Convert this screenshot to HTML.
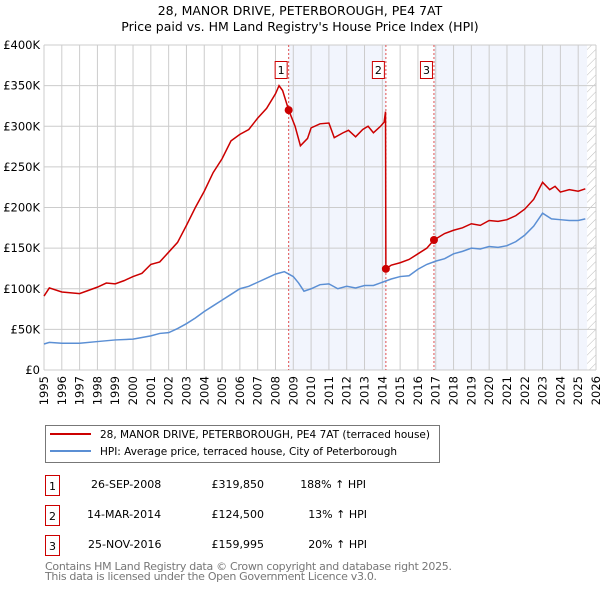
<!DOCTYPE html>
<html><head><meta charset="utf-8"><style>
body{margin:0;background:#fff;font-family:"Liberation Sans","DejaVu Sans",sans-serif;}
svg text{font-family:"DejaVu Sans","Liberation Sans",sans-serif;}
</style></head><body>
<svg id="c" width="600" height="590" xmlns="http://www.w3.org/2000/svg">
<defs><pattern id="hatch" width="6" height="6" patternUnits="userSpaceOnUse" patternTransform="rotate(45)"><line x1="0" y1="0" x2="0" y2="6" stroke="#bbb" stroke-width="1"/></pattern></defs>
<text x="300" y="15" text-anchor="middle" font-size="12.5">28, MANOR DRIVE, PETERBOROUGH, PE4 7AT</text>
<text x="300" y="31" text-anchor="middle" font-size="12.5">Price paid vs. HM Land Registry's House Price Index (HPI)</text>
<g id="plot"></g>
<g>
<rect x="45.5" y="425.5" width="394" height="37" fill="#fff" stroke="#777"/>
<line x1="50" y1="434" x2="91" y2="434" stroke="#cc0000" stroke-width="2"/>
<text x="100" y="438" font-size="10.5" textLength="330">28, MANOR DRIVE, PETERBOROUGH, PE4 7AT (terraced house)</text>
<line x1="50" y1="451" x2="91" y2="451" stroke="#5b8fd4" stroke-width="2"/>
<text x="100" y="455" font-size="10.5" textLength="297">HPI: Average price, terraced house, City of Peterborough</text>
</g>
<g font-size="11">
<rect x="45.5" y="475.5" width="14" height="20" fill="#fff" stroke="#cc0000"/><text x="52.5" y="490" text-anchor="middle">1</text>
<text x="91" y="488">26-SEP-2008</text><text x="264" y="488" text-anchor="end">£319,850</text><text x="366" y="488" text-anchor="end">188% ↑ HPI</text>
<rect x="45.5" y="505.5" width="14" height="20" fill="#fff" stroke="#cc0000"/><text x="52.5" y="520" text-anchor="middle">2</text>
<text x="87" y="518">14-MAR-2014</text><text x="264" y="518" text-anchor="end">£124,500</text><text x="367" y="518" text-anchor="end">13% ↑ HPI</text>
<rect x="45.5" y="535.5" width="14" height="20" fill="#fff" stroke="#cc0000"/><text x="52.5" y="550" text-anchor="middle">3</text>
<text x="88" y="548">25-NOV-2016</text><text x="264" y="548" text-anchor="end">£159,995</text><text x="367" y="548" text-anchor="end">20% ↑ HPI</text>
</g>
<text x="45" y="570" font-size="11" fill="#777" textLength="407">Contains HM Land Registry data © Crown copyright and database right 2025.</text>
<text x="45" y="580" font-size="11" fill="#777" textLength="332">This data is licensed under the Open Government Licence v3.0.</text>
</svg>
<script>
const hpiYears=[1995,1995.3,1996,1997,1998,1999,2000,2000.5,2001,2001.5,2002,2002.5,2003,2003.5,2004,2004.5,2005,2005.5,2006,2006.5,2007,2007.5,2008,2008.5,2009,2009.3,2009.6,2010,2010.5,2011,2011.5,2012,2012.5,2013,2013.5,2014,2014.5,2015,2015.5,2016,2016.5,2017,2017.5,2018,2018.5,2019,2019.5,2020,2020.5,2021,2021.5,2022,2022.5,2023,2023.5,2024,2024.5,2025,2025.4];
const hpiValues=[32,34,33,33,35,37,38,40,42,45,46,51,57,64,72,79,86,93,100,103,108,113,118,121,115,107,97,100,105,106,100,103,101,104,104,108,112,115,116,124,130,134,137,143,146,150,149,152,151,153,158,166,177,193,186,185,184,184,186];
const priceYears=[1995,1995.3,1996,1997,1997.5,1998,1998.5,1999,1999.5,2000,2000.5,2001,2001.5,2002,2002.5,2003,2003.5,2004,2004.5,2005,2005.5,2006,2006.5,2007,2007.5,2008,2008.2,2008.4,2008.74,2009.1,2009.4,2009.8,2010,2010.5,2011,2011.3,2011.8,2012.1,2012.5,2012.9,2013.2,2013.5,2013.9,2014.1,2014.18,2014.2,2014.5,2015,2015.5,2016,2016.5,2016.9,2017.5,2018,2018.5,2019,2019.5,2020,2020.5,2021,2021.5,2022,2022.5,2023,2023.4,2023.7,2024,2024.5,2025,2025.4];
const priceValues=[91,101,96,94,98,102,107,106,110,115,119,130,133,145,157,178,200,220,243,260,282,290,296,310,322,340,350,344,320,300,276,285,298,303,304,286,292,295,287,296,300,292,300,305,318,124.5,129,132,136,143,150,160,168,172,175,180,178,184,183,185,190,198,210,231,222,226,219,222,220,223];
const saleYears=[2008.74,2014.2,2016.9];
const saleValues=[319.85,124.5,159.995];
const saleLabels=["1","2","3"];
const yTicks=[0,50,100,150,200,250,300,350,400];
const xTicks=[1995,1996,1997,1998,1999,2000,2001,2002,2003,2004,2005,2006,2007,2008,2009,2010,2011,2012,2013,2014,2015,2016,2017,2018,2019,2020,2021,2022,2023,2024,2025,2026];

const X0=44,X1=596,Y0=370,Y1=45;
const x=v=>X0+(v-1995)*(X1-X0)/31;
const y=v=>Y0-v*(Y0-Y1)/400;
const NS="http://www.w3.org/2000/svg";
const g=document.getElementById('plot');
function mk(t,a){const e=document.createElementNS(NS,t);for(const k in a)e.setAttribute(k,a[k]);g.appendChild(e);return e;}
let e;
e=mk('rect',{x:X0,y:Y1,width:X1-X0,height:Y0-Y1,fill:'#fff'});


e=mk('rect',{x:x(saleYears[0]),y:Y1,width:x(saleYears[1])-x(saleYears[0]),height:Y0-Y1,fill:'#f2f5fd'});


e=mk('rect',{x:x(saleYears[2]),y:Y1,width:x(2025.5)-x(saleYears[2]),height:Y0-Y1,fill:'#f2f5fd'});


e=mk('rect',{x:x(2025.5),y:Y1,width:X1-x(2025.5),height:Y0-Y1,fill:'url(#hatch)'});


xTicks.forEach(t=>{
 e=mk('line',{x1:x(t),x2:x(t),y1:Y1,y2:Y0,stroke:'#ccc','stroke-width':1});
 
 
 e=mk('text',{x:x(t)+4,y:Y0+6,'font-size':11.5,'text-anchor':'end',transform:`rotate(-90 ${x(t)+4} ${Y0+6})`});
 e.textContent=t;
 
 
});
yTicks.forEach(t=>{
 e=mk('line',{x1:X0,x2:X1,y1:y(t),y2:y(t),stroke:'#ccc','stroke-width':1});
 
 
 e=mk('text',{x:X0-4,y:y(t)+4,'font-size':11.5,'text-anchor':'end'});
 e.textContent=t===0?'£0':'£'+t+'K';
 
 
});
saleYears.forEach((s,i)=>{
 e=mk('line',{x1:x(s),x2:x(s),y1:Y1,y2:Y0,stroke:'#e05050','stroke-width':1,'stroke-dasharray':'2,2'});
 
 
});
e=mk('polyline',{points:hpiYears.map((t,i)=>x(t)+','+y(hpiValues[i])).join(' '),fill:'none',stroke:'#5b8fd4','stroke-width':1.5});


e=mk('polyline',{points:priceYears.map((t,i)=>x(t)+','+y(priceValues[i])).join(' '),fill:'none',stroke:'#cc0000','stroke-width':1.5});


saleYears.forEach((s,i)=>{
 e=mk('circle',{cx:x(s),cy:y(saleValues[i]),r:4,fill:'#cc0000'});
 
 
 e=mk('rect',{x:x(s)-13.5,y:61.5,width:12,height:17,fill:'#fff',stroke:'#cc0000'});
 
 
 e=mk('text',{x:x(s)-7.5,y:74,'font-size':11,'text-anchor':'middle'});
 e.textContent=saleLabels[i];
 
 
});
</script>
</body></html>
